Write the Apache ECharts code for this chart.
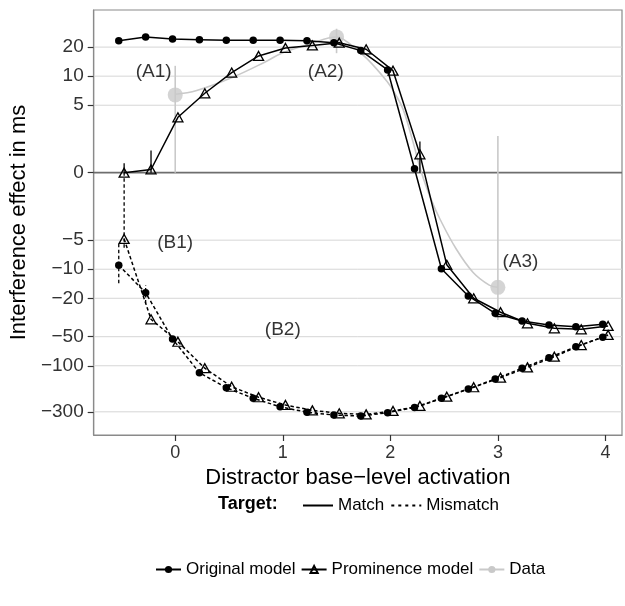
<!DOCTYPE html>
<html>
<head>
<meta charset="utf-8">
<title>Interference effect by distractor base-level activation</title>
<script src="https://cdn.jsdelivr.net/npm/echarts@6/dist/echarts.min.js"></script>
<style>
  html, body { margin: 0; padding: 0; background: #ffffff; }
  #chart { width: 625px; height: 606px; }
</style>
</head>
<body>
<div id="chart"></div>
<script>
// Distractor base-level activation (x) for every simulated model point
const activation = [-0.5, -0.25, 0, 0.25, 0.5, 0.75, 1, 1.25, 1.5, 1.75, 2, 2.25, 2.5, 2.75, 3, 3.25, 3.5, 3.75, 4];

// Interference effects in ms
const originalMatch = [23.3, 25.5, 24.3, 23.9, 23.5, 23.5, 23.6, 23.3, 22.2, 18.4, 11.6, 1.1, -9.9, -18.9, -28.6, -34.4, -37.8, -39.4, -37.2];
const prominenceMatch = [0, 1.08, 3.75, 6.65, 10.9, 16.2, 19.6, 20.8, 22.2, 19.0, 11.4, 1.55, -9.0, -20.0, -27.9, -36.3, -40.9, -41.9, -38.7];
const originalMismatch = [-9.1, -17.5, -52.8, -118, -169, -217, -266, -303, -324, -332, -306, -270, -217, -174, -137, -106, -82.5, -63.5, -50.7];
const prominenceMismatch = [-4.86, -33, -56.4, -106, -165, -212, -255, -290, -311, -319, -294, -261, -209, -167, -133, -104, -80.6, -61, -48];

// Interval bars on a few model points: [activation, lower, upper]
const prominenceMatchBars = [[-0.5, 0, 1.25], [-0.25, 0, 1.7], [2.25, 0, 2.1]];
const originalMismatchBars = [[-0.5, -14, -5.4], [-0.25, -22.6, -14.6]];
const prominenceMismatchBars = [[-0.5, -6, 0]];

// Observed data with intervals
const dataActivation = [0, 1.5, 3];
const dataEffect = [6.4, 25.5, -15.4];
const dataLower = [0, 17.3, -33.6];
const dataUpper = [12.8, 31, 2.4];

// Trend curve through the observed data
const trendActivation = [0, 0.2, 0.53, 0.84, 1.0, 1.25, 1.5, 1.6, 1.78, 1.97, 2.05, 2.12, 2.2, 2.29, 2.38, 2.46, 2.61, 2.77, 2.92, 3.0];
const trendEffect = [6.5, 7.1, 9.7, 14.1, 17.5, 21.5, 25.5, 22.6, 15.3, 8.8, 6.4, 4.5, 2.3, 0, -1.9, -3.0, -6.1, -10.8, -14.6, -15.4];

// Panel annotations
const annotationText = ['(A1)', '(A2)', '(A3)', '(B1)', '(B2)'];
const annotationX = [-0.2, 1.4, 3.21, 0.0, 1.0];
const annotationY = [11.05, 11.2, -8.4, -5.35, -42.6];

// Axis ticks
const yTickValues = [20, 10, 5, 0, -5, -10, -20, -50, -100, -300];
const xTickValues = [0, 1, 2, 3, 4];

// Signed log scale for the effect axis
function slog(v) {
  const a = Math.abs(v);
  return a <= 1 ? 0 : Math.sign(v) * Math.log(a);
}
function fmtNum(v) {
  return v < 0 ? '\u2212' + Math.abs(v) : String(v);
}

const DODGE = 0.025;
const FONT = '"Liberation Sans", Arial, Helvetica, sans-serif';
const DASH = [3.5, 2.5];
const FRAME = '#8a8a8a';

function pairs(xs, ys, dx) {
  return xs.map((x, i) => [x + dx, slog(ys[i])]);
}

function barSeries(rows, dx, color, width, dash) {
  return {
    type: 'custom',
    silent: true,
    z: 4,
    data: rows.map(r => [r[0] + dx, slog(r[1]), slog(r[2])]),
    encode: { x: 0, y: [1, 2] },
    renderItem(params, api) {
      const a = api.coord([api.value(0), api.value(1)]);
      const b = api.coord([api.value(0), api.value(2)]);
      return {
        type: 'line',
        shape: { x1: a[0], y1: a[1], x2: b[0], y2: b[1] },
        style: { stroke: color, lineWidth: width, lineDash: dash || null }
      };
    }
  };
}

function hLines(values, color, width, z) {
  return {
    type: 'custom',
    silent: true,
    z: z,
    data: values.map(v => [0, slog(v)]),
    encode: { x: 0, y: 1 },
    renderItem(params, api) {
      const cs = params.coordSys;
      const y = api.coord([0, api.value(1)])[1];
      return {
        type: 'line',
        shape: { x1: cs.x, y1: y, x2: cs.x + cs.width, y2: y },
        style: { stroke: color, lineWidth: width }
      };
    }
  };
}

const chart = echarts.init(document.getElementById('chart'), null, { renderer: 'canvas' });

const option = {
  animation: false,
  backgroundColor: '#ffffff',
  textStyle: { fontFamily: FONT },
  grid: {
    left: 92, top: 10, right: 3, bottom: 171,
    show: true, borderColor: FRAME, borderWidth: 1.2, backgroundColor: '#ffffff'
  },
  xAxis: {
    type: 'value',
    min: -0.758, max: 4.154,
    name: 'Distractor base\u2212level activation',
    nameLocation: 'middle',
    nameGap: 32,
    nameTextStyle: { fontSize: 22, color: '#000', fontFamily: FONT },
    axisLine: { show: true, onZero: false, lineStyle: { color: FRAME, width: 1.2 } },
    splitLine: { show: false },
    axisTick: { show: true, length: 6, customValues: xTickValues, lineStyle: { color: '#333', width: 1.2 } },
    axisLabel: { customValues: xTickValues, fontSize: 18, color: '#333', margin: 9, fontFamily: FONT }
  },
  yAxis: {
    type: 'value',
    min: -6.257, max: 3.881,
    name: 'Interference effect in ms',
    nameLocation: 'middle',
    nameGap: 52,
    nameTextStyle: { fontSize: 22, color: '#000', fontFamily: FONT },
    axisLine: { show: true, onZero: false, lineStyle: { color: FRAME, width: 1.2 } },
    splitLine: { show: false },
    axisTick: { show: true, length: 6, customValues: yTickValues.map(slog), lineStyle: { color: '#333', width: 1.2 } },
    axisLabel: {
      customValues: yTickValues.map(slog),
      fontSize: 19, color: '#333', margin: 10, fontFamily: FONT,
      formatter: function (val) {
        let best = yTickValues[0], d = Infinity;
        yTickValues.forEach(v => { const e = Math.abs(slog(v) - val); if (e < d) { d = e; best = v; } });
        return fmtNum(best);
      }
    }
  },
  legend: [
    {
      data: ['Match', 'Mismatch'],
      left: 297, top: 492,
      itemWidth: 30, itemHeight: 14, itemGap: 6,
      textStyle: { fontSize: 17, color: '#000', fontFamily: FONT },
      selectedMode: false
    },
    {
      data: ['Original model', 'Prominence model', 'Data'],
      left: 150, top: 556,
      itemWidth: 25, itemHeight: 9, itemGap: 5,
      textStyle: { fontSize: 17, color: '#000', fontFamily: FONT },
      selectedMode: false
    }
  ],
  graphic: [
    {
      type: 'text', left: 218, top: 495,
      style: { text: 'Target:', font: 'bold 18px ' + FONT, fill: '#000' }
    }
  ],
  series: [
    // horizontal reference lines
    hLines(yTickValues.filter(v => v !== 0), '#d6d6d6', 1, 1),
    hLines([0], '#6e6e6e', 1.7, 2),

    // trend through observed data
    {
      name: 'Data', type: 'line', z: 3,
      data: pairs(trendActivation, trendEffect, 0),
      smooth: 0.4,
      showSymbol: false, symbol: 'circle', symbolSize: 8,
      lineStyle: { color: '#c9c9c9', width: 1.6 },
      itemStyle: { color: '#c9c9c9' },
      silent: true
    },
    barSeries(dataActivation.map((x, i) => [x, dataLower[i], dataUpper[i]]), 0, '#c9c9c9', 1.6),
    {
      name: 'Data points', type: 'scatter', z: 3,
      data: pairs(dataActivation, dataEffect, 0),
      symbol: 'circle', symbolSize: 15,
      itemStyle: { color: '#c9c9c9' },
      silent: true
    },

    // model interval bars
    barSeries(prominenceMatchBars, DODGE, '#000', 1.3),
    barSeries(originalMismatchBars, -DODGE, '#000', 1.3, DASH),
    barSeries(prominenceMismatchBars, DODGE, '#000', 1.3, DASH),

    // models, target match
    {
      name: 'Original model', type: 'line', z: 5,
      data: pairs(activation, originalMatch, -DODGE),
      symbol: 'circle', symbolSize: 7.5,
      lineStyle: { color: '#000', width: 1.5 },
      itemStyle: { color: '#000' }
    },
    {
      name: 'Prominence model', type: 'line', z: 5,
      data: pairs(activation, prominenceMatch, DODGE),
      symbol: 'triangle', symbolSize: [10, 9],
      lineStyle: { color: '#000', width: 1.5 },
      itemStyle: { color: 'rgba(255,255,255,0)', borderColor: '#000', borderWidth: 1.3 }
    },
    // models, target mismatch
    {
      name: 'Original model', type: 'line', z: 5,
      data: pairs(activation, originalMismatch, -DODGE),
      symbol: 'circle', symbolSize: 7.5,
      lineStyle: { color: '#000', width: 1.5, type: DASH },
      itemStyle: { color: '#000' }
    },
    {
      name: 'Prominence model', type: 'line', z: 5,
      data: pairs(activation, prominenceMismatch, DODGE),
      symbol: 'triangle', symbolSize: [10, 9],
      lineStyle: { color: '#000', width: 1.5, type: DASH },
      itemStyle: { color: 'rgba(255,255,255,0)', borderColor: '#000', borderWidth: 1.3 }
    },

    // line-type keys
    {
      name: 'Match', type: 'line', data: [], symbol: 'none',
      lineStyle: { color: '#000', width: 2.2 },
      itemStyle: { color: 'rgba(0,0,0,0)' }
    },
    {
      name: 'Mismatch', type: 'line', data: [], symbol: 'none',
      lineStyle: { color: '#000', width: 2.2, type: [3, 4] },
      itemStyle: { color: 'rgba(0,0,0,0)' }
    },

    // panel annotations
    {
      type: 'scatter', z: 6, silent: true,
      symbolSize: 0,
      itemStyle: { color: 'rgba(0,0,0,0)' },
      data: annotationText.map((t, i) => [annotationX[i], slog(annotationY[i]), t]),
      label: {
        show: true, position: 'inside',
        formatter: p => p.value[2],
        fontSize: 19, color: '#000', fontFamily: FONT,
        textBorderWidth: 0, textShadowBlur: 0
      }
    }
  ]
};

chart.setOption(option);
</script>
</body>
</html>
